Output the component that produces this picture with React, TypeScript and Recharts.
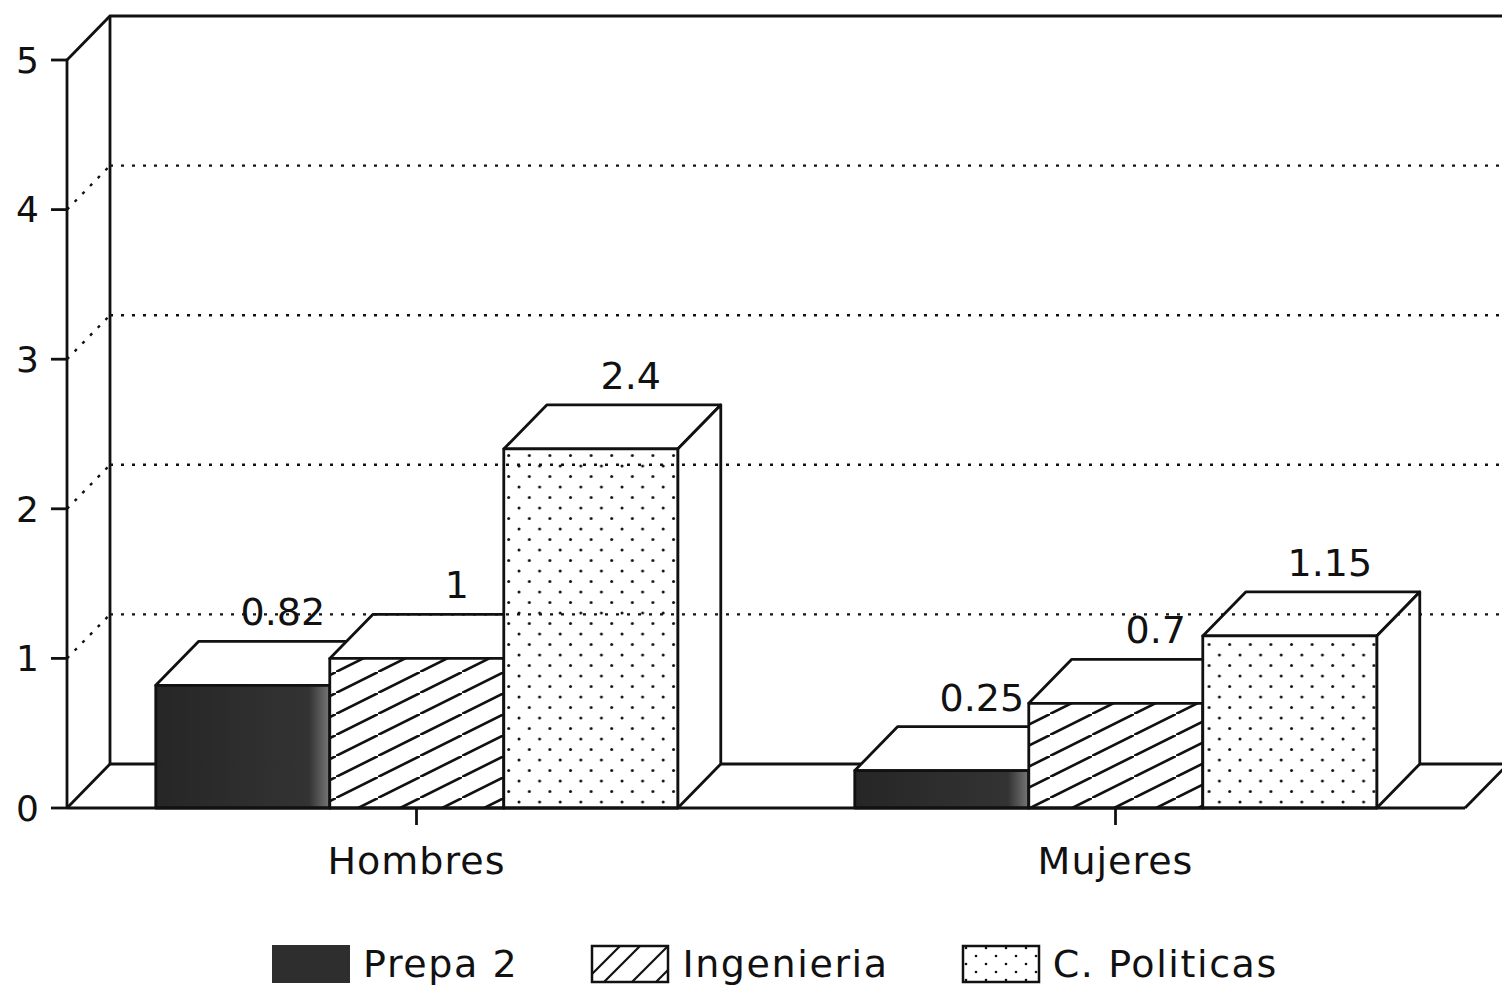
import React from 'react';
import {
  BarChart,
  Bar,
  XAxis,
  YAxis,
  Legend,
  LabelList,
  ReferenceArea,
  ReferenceLine,
} from 'recharts';

// chart values
const categories = ['Hombres', 'Mujeres'];
const prepa2 = [0.82, 0.25];
const ingenieria = [1, 0.7];
const cPoliticas = [2.4, 1.15];
const yTicks = [0, 1, 2, 3, 4, 5];
const gridValues = [1, 2, 3, 4];
const seriesNames = ['Prepa 2', 'Ingenieria', 'C. Politicas'];

const data = categories.map((name, i) => ({
  name,
  prepa2: prepa2[i],
  ingenieria: ingenieria[i],
  cPoliticas: cPoliticas[i],
}));

// 3D depth offset
const DX = 43;
const DY = 44;
const FONT = '"DejaVu Sans", sans-serif';
const INK = '#111';

const Patterns = () => (
  <defs>
    <linearGradient id="prepaFill" x1="0" y1="0" x2="1" y2="0">
      <stop offset="0" stopColor="#262626" />
      <stop offset="0.88" stopColor="#333" />
      <stop offset="1" stopColor="#777" />
    </linearGradient>
    <pattern id="hatchFill" patternUnits="userSpaceOnUse" width="42" height="21">
      <rect width="42" height="21" fill="#fff" />
      <line x1="-2" y1="22" x2="44" y2="-1" stroke={INK} strokeWidth="2.6" />
    </pattern>
    <pattern id="dotFill" patternUnits="userSpaceOnUse" width="20.6" height="21">
      <rect width="20.6" height="21" fill="#fff" />
      <circle cx="4" cy="4" r="1.5" fill={INK} />
      <circle cx="14.3" cy="14.5" r="1.5" fill={INK} />
    </pattern>
  </defs>
);

const Walls = (props: any) => {
  const { x, y, width, height } = props;
  const b = y + height;
  const line = { stroke: INK, strokeWidth: 2.8, fill: 'none' };
  return (
    <g>
      <Patterns />
      <path d={`M${x},${y} L${x + DX},${y - DY} L${x + width + DX},${y - DY}`} {...line} />
      <path d={`M${x + DX},${y - DY} L${x + DX},${b - DY} L${x + width + DX},${b - DY}`} {...line} />
      <path d={`M${x},${b} L${x + DX},${b - DY}`} {...line} />
      <path d={`M${x + width},${b} L${x + width + DX},${b - DY} L${x + width + DX},${y - DY}`} {...line} />
    </g>
  );
};

const DepthGrid = (props: any) => {
  const { x1, y1, x2, y2 } = props;
  const dot = { stroke: INK, strokeWidth: 2.4, strokeDasharray: '3 8', fill: 'none' };
  return (
    <g>
      <path d={`M${x1},${y1} L${x1 + DX},${y1 - DY}`} {...dot} />
      <path d={`M${x1 + DX},${y1 - DY} L${x2 + DX},${y2 - DY}`} {...dot} />
    </g>
  );
};

const Bar3D = (props: any) => {
  const { x, y, width, height, fill } = props;
  if (width == null || height == null) return null;
  const s = { stroke: INK, strokeWidth: 2.8, strokeLinejoin: 'round' as const };
  return (
    <g>
      <polygon
        points={`${x},${y} ${x + DX},${y - DY} ${x + width + DX},${y - DY} ${x + width},${y}`}
        fill="#fff"
        {...s}
      />
      <polygon
        points={`${x + width},${y} ${x + width + DX},${y - DY} ${x + width + DX},${y + height - DY} ${x + width},${y + height}`}
        fill="#fff"
        {...s}
      />
      <rect x={x} y={y} width={width} height={height} fill={fill} {...s} />
    </g>
  );
};

const ValueLabel = (props: any) => {
  const { x, y, width, value } = props;
  return (
    <text
      x={x + width / 2 + DX - 3}
      y={y - DY - 16}
      textAnchor="middle"
      fontFamily={FONT}
      fontSize={38}
      fill={INK}
    >
      {String(value)}
    </text>
  );
};

const Swatch = ({ kind }: { kind: number }) => (
  <svg width="80" height="40" style={{ display: 'block', marginRight: 12 }}>
    <defs>
      <pattern id="lgDots" patternUnits="userSpaceOnUse" width="20" height="16">
        <circle cx="5" cy="4" r="1.3" fill={INK} />
        <circle cx="15" cy="12" r="1.3" fill={INK} />
      </pattern>
    </defs>
    {kind === 0 && <rect x="1" y="1" width="78" height="38" fill="#2e2e2e" />}
    {kind === 1 && (
      <g>
        <rect x="2" y="2" width="76" height="36" fill="#fff" stroke={INK} strokeWidth="2.5" />
        <path d="M2,30 L30,2 M14,38 L50,2 M42,38 L78,2 M66,38 L78,26" stroke={INK} strokeWidth="2.2" />
      </g>
    )}
    {kind === 2 && (
      <rect x="2" y="2" width="76" height="36" fill="url(#lgDots)" stroke={INK} strokeWidth="2.5" />
    )}
  </svg>
);

const LegendContent = () => (
  <div
    style={{
      display: 'flex',
      justifyContent: 'center',
      alignItems: 'center',
      paddingLeft: 84,
      height: 48,
      fontFamily: FONT,
      fontSize: 38,
      letterSpacing: 1.6,
      color: INK,
    }}
  >
    {seriesNames.map((n, i) => (
      <div key={n} style={{ display: 'flex', alignItems: 'center', marginRight: i < 2 ? 72 : 0 }}>
        <Swatch kind={i} />
        <span style={{ lineHeight: '48px' }}>{n}</span>
      </div>
    ))}
  </div>
);

export default function App() {
  return (
    <div style={{ position: 'absolute', left: 0, top: 0, background: '#fff' }}>
      <BarChart
        width={1502}
        height={988}
        data={data}
        margin={{ top: 60, right: 37, bottom: 0, left: 0 }}
        barCategoryGap="12.7%"
        barGap={0}
      >
        <ReferenceArea y1={0} y2={5} shape={<Walls />} />
        {gridValues.map((v) => (
          <ReferenceLine key={v} y={v} shape={<DepthGrid />} />
        ))}
        <XAxis
          dataKey="name"
          height={132}
          tickSize={17}
          tickMargin={22}
          axisLine={{ stroke: INK, strokeWidth: 2.8 }}
          tickLine={{ stroke: INK, strokeWidth: 2.8 }}
          tick={{ fontFamily: FONT, fontSize: 38, fill: INK, letterSpacing: 1 }}
        />
        <YAxis
          type="number"
          domain={[0, 5]}
          ticks={yTicks}
          width={67}
          tickSize={16}
          tickMargin={12}
          axisLine={{ stroke: INK, strokeWidth: 2.8 }}
          tickLine={{ stroke: INK, strokeWidth: 2.8 }}
          tick={{ fontFamily: FONT, fontSize: 36, fill: INK }}
        />
        <Legend verticalAlign="bottom" height={48} content={<LegendContent />} />
        <Bar dataKey="prepa2" name={seriesNames[0]} fill="url(#prepaFill)" shape={<Bar3D />} isAnimationActive={false}>
          <LabelList dataKey="prepa2" content={<ValueLabel />} />
        </Bar>
        <Bar dataKey="ingenieria" name={seriesNames[1]} fill="url(#hatchFill)" shape={<Bar3D />} isAnimationActive={false}>
          <LabelList dataKey="ingenieria" content={<ValueLabel />} />
        </Bar>
        <Bar dataKey="cPoliticas" name={seriesNames[2]} fill="url(#dotFill)" shape={<Bar3D />} isAnimationActive={false}>
          <LabelList dataKey="cPoliticas" content={<ValueLabel />} />
        </Bar>
      </BarChart>
    </div>
  );
}
